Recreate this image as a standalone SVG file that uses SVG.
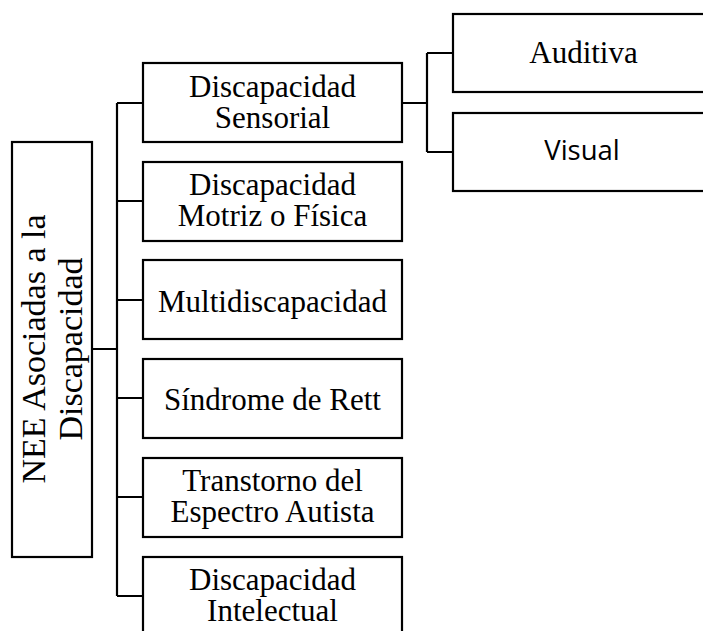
<svg xmlns="http://www.w3.org/2000/svg" width="703" height="631" viewBox="0 0 703 631">
<style>
.box{fill:#fff;stroke:#000;stroke-width:2.2}
.ln{fill:none;stroke:#000;stroke-width:2.2}
.t{font-family:"Liberation Serif","Times New Roman",serif;font-size:31px;fill:#000;text-anchor:middle}
.tv{font-family:"Liberation Serif","Times New Roman",serif;font-size:34px;fill:#000;text-anchor:middle}
.s{font-family:"Open Sans","Noto Sans",sans-serif;font-size:27.5px;fill:#000;text-anchor:middle}
</style>
<rect width="703" height="631" fill="#fff"/>
<g id="connectors">
<path class="ln" d="M92 349H117M117 103V596M117 103H143M117 201H143M117 300H143M117 398H143M117 497H143M117 596H143"/>
<path class="ln" d="M402 103H427M427 53V152M427 53H453M427 152H453"/>
</g>
<g id="root">
<rect class="box" x="12" y="142" width="80" height="415"/>
<text class="tv" transform="translate(45,349) rotate(-90)">NEE Asociadas a la</text>
<text class="tv" transform="translate(82,349) rotate(-90)">Discapacidad</text>
</g>
<g id="sensorial">
<rect class="box" x="143" y="63" width="259" height="79"/>
<text class="t" x="272.5" y="97">Discapacidad</text>
<text class="t" x="272.5" y="128">Sensorial</text>
</g>
<g id="motriz">
<rect class="box" x="143" y="162" width="259" height="79"/>
<text class="t" x="272.5" y="195">Discapacidad</text>
<text class="t" x="272.5" y="226">Motriz o Física</text>
</g>
<g id="multi">
<rect class="box" x="143" y="260" width="259" height="79"/>
<text class="t" x="272.5" y="312">Multidiscapacidad</text>
</g>
<g id="rett">
<rect class="box" x="143" y="359" width="259" height="79"/>
<text class="t" x="272.5" y="410">Síndrome de Rett</text>
</g>
<g id="tea">
<rect class="box" x="143" y="458" width="259" height="79"/>
<text class="t" x="272.5" y="491">Transtorno del</text>
<text class="t" x="272.5" y="522">Espectro Autista</text>
</g>
<g id="intelectual">
<rect class="box" x="143" y="557" width="259" height="79"/>
<text class="t" x="272.5" y="590">Discapacidad</text>
<text class="t" x="272.5" y="621">Intelectual</text>
</g>
<g id="auditiva">
<rect class="box" x="453" y="14" width="270" height="78"/>
<text class="t" x="583.5" y="63">Auditiva</text>
</g>
<g id="visual">
<rect class="box" x="453" y="113" width="270" height="78"/>
<text class="s" x="582" y="160">Visual</text>
</g>
</svg>
